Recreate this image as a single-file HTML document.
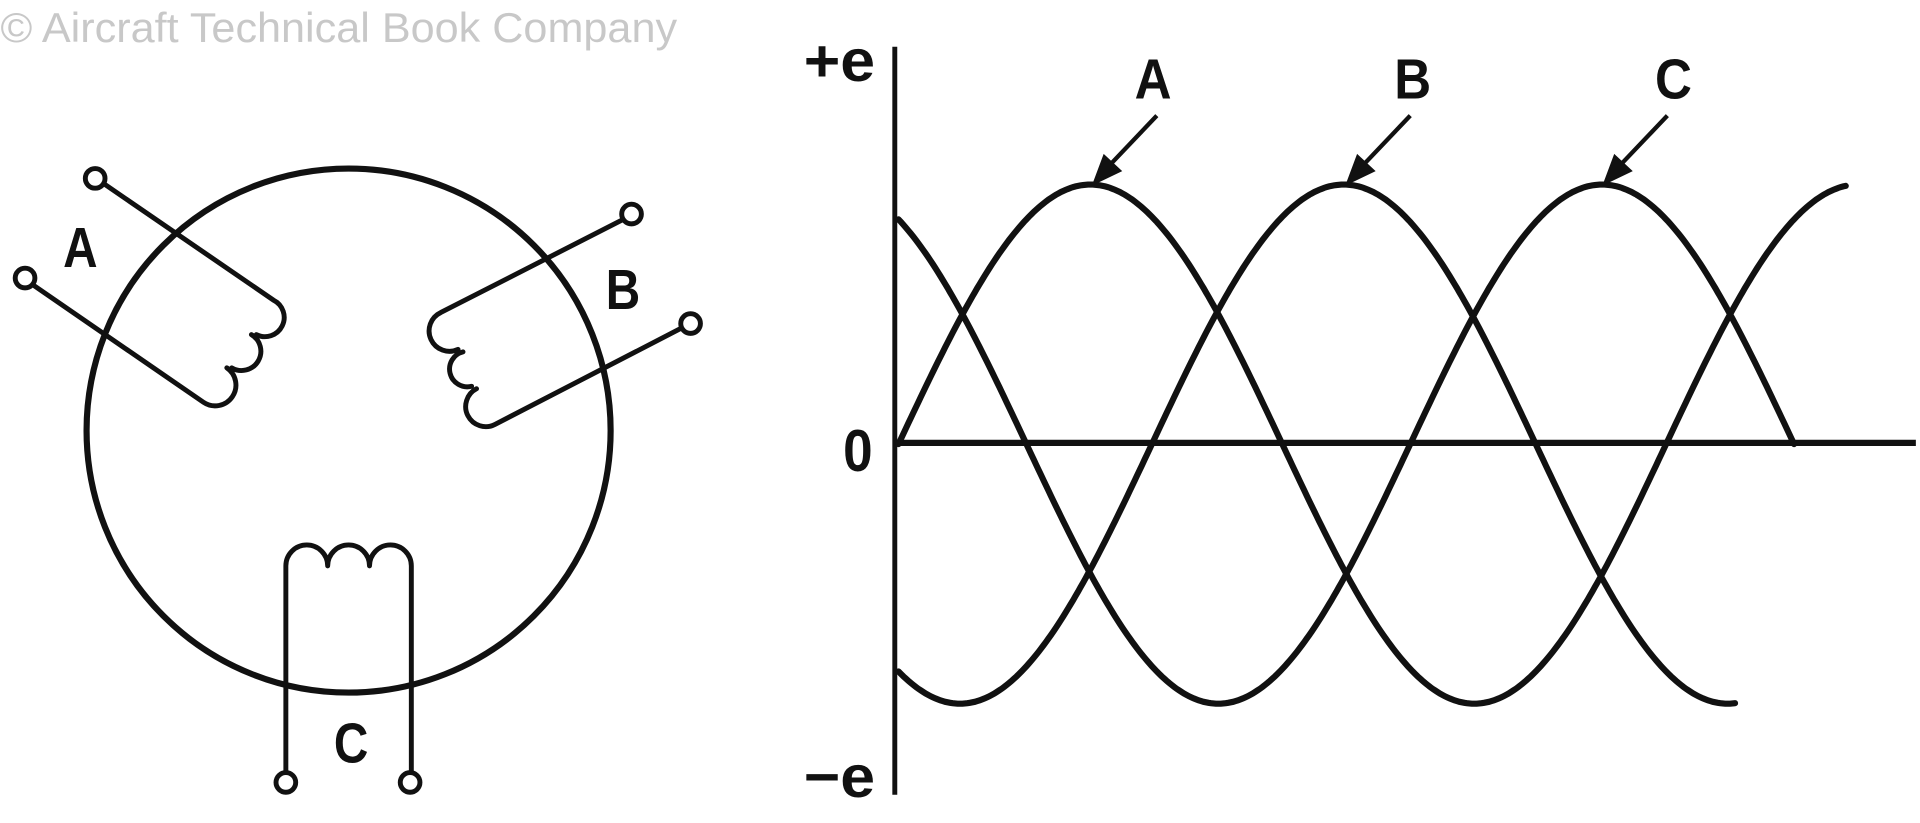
<!DOCTYPE html>
<html><head><meta charset="utf-8"><style>
html,body{margin:0;padding:0;background:#fff;width:1920px;height:823px;overflow:hidden}
svg{display:block}
text{font-family:"Liberation Sans Narrow","Liberation Sans",sans-serif;font-weight:bold;fill:#111}
</style></head><body>
<svg width="1920" height="823" viewBox="0 0 1560 669" xmlns="http://www.w3.org/2000/svg">
<text x="0" y="34" font-size="34" style="font-weight:normal;fill:#c8c8c8" textLength="550" lengthAdjust="spacingAndGlyphs">© Aircraft Technical Book Company</text>

<ellipse cx="283" cy="350" rx="213" ry="213" fill="none" stroke="#111" stroke-width="5"/>

<g fill="none" stroke="#111" stroke-width="4" stroke-linecap="round" stroke-linejoin="round">
<path d="M85,150 L222,244 A15,15 0 0 1 208,272 M204,272 A14,14 0 0 1 188,299 M184,299 A14,14 0 0 1 165,327 L27,232"/>
<path d="M505,179 L358,254 A15,15 0 0 0 372,284 M376,286 A14,14 0 0 0 383,314 M387,316 A14,14 0 0 0 402,345 L553,267"/>
<path d="M232,628 V460 A17,17 0 0 1 266,460 A17,17 0 0 1 300,460 A17,17 0 0 1 334,460 V628"/>
</g>
<g fill="#fff" stroke="#111" stroke-width="4">
<circle cx="77" cy="145" r="8"/>
<circle cx="20" cy="226" r="8"/>
<circle cx="513" cy="174" r="8"/>
<circle cx="561" cy="263" r="8"/>
<circle cx="232" cy="636" r="8"/>
<circle cx="333" cy="636" r="8"/>
</g>
<text x="65" y="217" font-size="46" text-anchor="middle" textLength="28" lengthAdjust="spacingAndGlyphs">A</text>
<text x="506" y="251" font-size="46" text-anchor="middle" textLength="28" lengthAdjust="spacingAndGlyphs">B</text>
<text x="285" y="620" font-size="46" text-anchor="middle" textLength="28" lengthAdjust="spacingAndGlyphs">C</text>

<line x1="727" y1="38" x2="727" y2="646" stroke="#111" stroke-width="4"/>
<line x1="727" y1="360" x2="1557" y2="360" stroke="#111" stroke-width="5"/>
<text x="682" y="66" font-size="48" text-anchor="middle" textLength="58" lengthAdjust="spacingAndGlyphs">+e</text>
<text x="697" y="383" font-size="48" text-anchor="middle" textLength="24" lengthAdjust="spacingAndGlyphs">0</text>
<text x="682" y="648" font-size="48" text-anchor="middle" textLength="58" lengthAdjust="spacingAndGlyphs">−e</text>

<g id="curves" fill="none" stroke="#111" stroke-width="5" stroke-linecap="round"></g>

<text x="937" y="80" font-size="46" text-anchor="middle" textLength="30" lengthAdjust="spacingAndGlyphs">A</text>
<text x="1148" y="80" font-size="46" text-anchor="middle" textLength="30" lengthAdjust="spacingAndGlyphs">B</text>
<text x="1360" y="80" font-size="46" text-anchor="middle" textLength="30" lengthAdjust="spacingAndGlyphs">C</text>
<g stroke="#111" stroke-width="3.5" fill="#111">
<line x1="940" y1="94" x2="900" y2="136"/>
<line x1="1146" y1="94" x2="1106" y2="136"/>
<line x1="1355" y1="94" x2="1315" y2="136"/>
<path d="M888,150 L897,126 L911,139 Z" stroke-width="1"/>
<path d="M1094,150 L1103,126 L1117,139 Z" stroke-width="1"/>
<path d="M1303,150 L1312,126 L1326,139 Z" stroke-width="1"/>
</g>
</svg>
<script>
(function(){
var g=document.getElementById('curves');
function mk(phase,x0,x1){
 var d='';
 for(var x=x0;x<=x1;x+=2){
  var y=361-211*Math.sin(2*Math.PI*(x-730-phase)/624);
  d+=(d?' L':'M')+x.toFixed(1)+','+y.toFixed(1);
 }
 var p=document.createElementNS('http://www.w3.org/2000/svg','path');
 p.setAttribute('d',d);g.appendChild(p);
}
mk(0,730,1500);
mk(206,730,1410);
mk(416,730,1458);
})();
</script>
</body></html>
